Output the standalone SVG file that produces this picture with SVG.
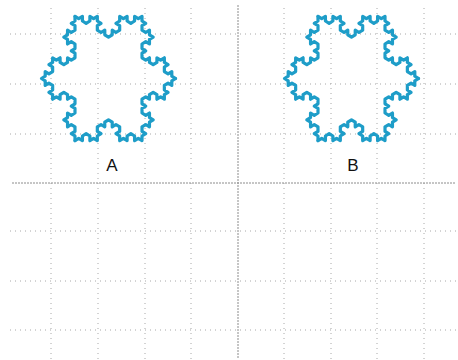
<svg xmlns="http://www.w3.org/2000/svg" xmlns:xlink="http://www.w3.org/1999/xlink" width="458" height="360" viewBox="0 0 458 360">
<style>
.minor{stroke:#a8a8a8;stroke-width:1;stroke-dasharray:1 4;fill:none}
.axis{stroke:#8c8c8c;stroke-width:1;stroke-dasharray:2 1;fill:none}
.koch{fill:none;stroke:#1e9dc8;stroke-width:3.2;stroke-linejoin:round;stroke-linecap:round;vector-effect:non-scaling-stroke}
.lbl{font-family:"Liberation Sans",Arial,sans-serif;font-size:17px;fill:#111;text-anchor:middle}
</style>
<defs>
<path id="kside" class="koch" transform="matrix(1,0,0.5,0.8660254,0,0)" d="M0 0 l1 0 1 -1 0 1 1 0 1 -1 0 -1 1 0 1 -1 0 1 1 0 -1 1 0 1 1 0 1 -1 0 1 1 0 1 -1 0 -1 1 0 1 -1 0 -1 -1 0 1 -1 0 -1 1 0 1 -1 0 1 1 0 1 -1 0 -1 1 0 1 -1 0 1 1 0 -1 1 0 1 1 0 1 -1 0 1 1 0 -1 1 0 1 -1 0 -1 1 0 1 1 0 -1 1 0 1 1 0 1 -1 0 1 1 0 1 -1 0 -1 1 0 1 -1 0 1 1 0 -1 1 0 1 1 0 1 -1 0 1 1 0"/>
<g id="flake">
<use xlink:href="#kside" href="#kside"/>
<use xlink:href="#kside" href="#kside" transform="rotate(120 13.5 7.794)"/>
<use xlink:href="#kside" href="#kside" transform="rotate(240 13.5 7.794)"/>
</g>
</defs>
<rect width="458" height="360" fill="#fff"/>
<g id="grid">
<line class="minor" x1="51" y1="8" x2="51" y2="360"/>
<line class="minor" x1="98" y1="8" x2="98" y2="360"/>
<line class="minor" x1="145" y1="8" x2="145" y2="360"/>
<line class="minor" x1="191" y1="8" x2="191" y2="360"/>
<line class="minor" x1="284" y1="8" x2="284" y2="360"/>
<line class="minor" x1="331" y1="8" x2="331" y2="360"/>
<line class="minor" x1="377" y1="8" x2="377" y2="360"/>
<line class="minor" x1="424" y1="8" x2="424" y2="360"/>
<line class="minor" x1="10" y1="34" x2="458" y2="34"/>
<line class="minor" x1="10" y1="84" x2="458" y2="84"/>
<line class="minor" x1="10" y1="134" x2="458" y2="134"/>
<line class="minor" x1="10" y1="231" x2="458" y2="231"/>
<line class="minor" x1="10" y1="281" x2="458" y2="281"/>
<line class="minor" x1="10" y1="330" x2="458" y2="330"/>
<line class="axis" x1="12" y1="183" x2="456" y2="183"/>
<line class="axis" x1="238" y1="5" x2="238" y2="358"/>
</g>
<g id="snowflake-A">
<use xlink:href="#flake" href="#flake" transform="translate(108.5,78.5) scale(4.3,4.6) rotate(30) translate(-13.5,-7.794)"/>
<text class="lbl" x="112" y="171">A</text>
</g>
<g id="snowflake-B">
<use xlink:href="#flake" href="#flake" transform="translate(351.5,78.5) scale(4.3,4.6) rotate(30) translate(-13.5,-7.794)"/>
<text class="lbl" x="353" y="171">B</text>
</g>
</svg>
